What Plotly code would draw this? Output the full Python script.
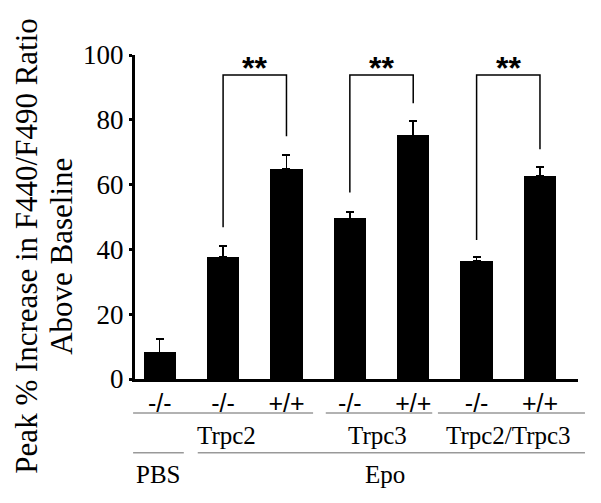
import plotly.graph_objects as go

# data
genotypes = ['-/-', '-/-', '+/+', '-/-', '+/+', '-/-', '+/+']
peak_increase = [8.2, 37.7, 64.9, 49.6, 75.2, 36.4, 62.7]
sem_upper = [4.2, 3.4, 4.3, 2.0, 4.4, 1.2, 2.7]

# significance comparisons (bar index pairs) and bracket heights
sig_pairs = [(1, 2), (3, 4), (5, 6)]
sig_labels = ['**', '**', '**']
bracket_top = [93.8, 93.8, 93.8]
bracket_left_low = [46.8, 57.6, 42.9]
bracket_right_low = [74.9, 85.1, 70.9]

# grouping rows below the axis
channel_labels = ['Trpc2', 'Trpc3', 'Trpc2/Trpc3']
treatment_labels = ['PBS', 'Epo']

SERIF = 'Liberation Serif'
SANS = 'Liberation Sans'

x_pos = list(range(len(peak_increase)))
x_range = [-0.39, 6.6]

fig = go.Figure()

fig.add_trace(go.Bar(
    x=x_pos, y=peak_increase, width=0.51,
    marker=dict(color='black', line=dict(width=0)),
    error_y=dict(type='data', array=sem_upper, arrayminus=[0] * len(sem_upper),
                 symmetric=False, color='black', thickness=1.5, width=4),
    showlegend=False,
))

# significance brackets
for (a, b), lab, top, lo_a, lo_b in zip(sig_pairs, sig_labels, bracket_top,
                                         bracket_left_low, bracket_right_low):
    fig.add_trace(go.Scatter(
        x=[a, a, b, b], y=[lo_a, top, top, lo_b], mode='lines',
        line=dict(color='black', width=1.5), showlegend=False, hoverinfo='skip',
    ))
    fig.add_annotation(x=(a + b) / 2, y=top - 4.0, text='<b>' + lab + '</b>', showarrow=False,
                       xanchor='center', yanchor='bottom',
                       font=dict(family=SANS, size=32, color='black'))


def to_paper(xv):
    return (xv - x_range[0]) / (x_range[1] - x_range[0])


# group lines + labels below the axis (spans in category units)
channel_spans = [(-0.42, 2.42), (2.62, 4.3), (4.39, 6.71)]
treatment_spans = [(-0.42, 0.38), (0.6, 6.71)]
label_shift = [0.06, -0.03, -0.05]

for (s, e), lab, sh in zip(channel_spans, channel_labels, label_shift):
    fig.add_shape(type='line', xref='paper', yref='paper',
                  x0=to_paper(s), x1=to_paper(e), y0=-0.105, y1=-0.105,
                  line=dict(color='#999999', width=1.5))
    fig.add_annotation(xref='paper', yref='paper', x=to_paper((s + e) / 2 + sh), y=-0.173,
                       text=lab, showarrow=False, xanchor='center', yanchor='middle',
                       font=dict(family=SERIF, size=25, color='black'))

for (s, e), lab, sh in zip(treatment_spans, treatment_labels, [0.0, -0.1]):
    fig.add_shape(type='line', xref='paper', yref='paper',
                  x0=to_paper(s), x1=to_paper(e), y0=-0.228, y1=-0.228,
                  line=dict(color='#999999', width=1.5))
    fig.add_annotation(xref='paper', yref='paper', x=to_paper((s + e) / 2 + sh), y=-0.296,
                       text=lab, showarrow=False, xanchor='center', yanchor='middle',
                       font=dict(family=SERIF, size=25, color='black'))

# y-axis title as two rotated lines
fig.add_annotation(xref='paper', yref='paper', x=-0.245, y=0.41,
                   text='Peak % Increase in F440/F490 Ratio', textangle=-90,
                   showarrow=False, xanchor='center', yanchor='middle',
                   font=dict(family=SERIF, size=31, color='black'))
fig.add_annotation(xref='paper', yref='paper', x=-0.165, y=0.38,
                   text='Above Baseline', textangle=-90,
                   showarrow=False, xanchor='center', yanchor='middle',
                   font=dict(family=SERIF, size=31, color='black'))

# page body has an 8px margin, so the figure is 8px smaller than the window
fig.update_layout(
    width=593, height=495,
    margin=dict(l=127, r=23, t=47, b=124),
    plot_bgcolor='white', paper_bgcolor='white',
    bargap=0,
)

fig.update_xaxes(
    range=x_range, tickmode='array', tickvals=x_pos, ticktext=genotypes,
    showline=True, linewidth=3, linecolor='black', showgrid=False, zeroline=False,
    ticks='',
    tickfont=dict(family=SANS, size=25, color='black'),
)
fig.update_yaxes(
    range=[0, 100], tickvals=[0, 20, 40, 60, 80, 100],
    showline=True, linewidth=3, linecolor='black', showgrid=False, zeroline=False,
    ticks='outside', ticklen=3, tickwidth=3, tickcolor='black',
    tickfont=dict(family=SERIF, size=27, color='black'),
)

fig.write_html("out.html")
